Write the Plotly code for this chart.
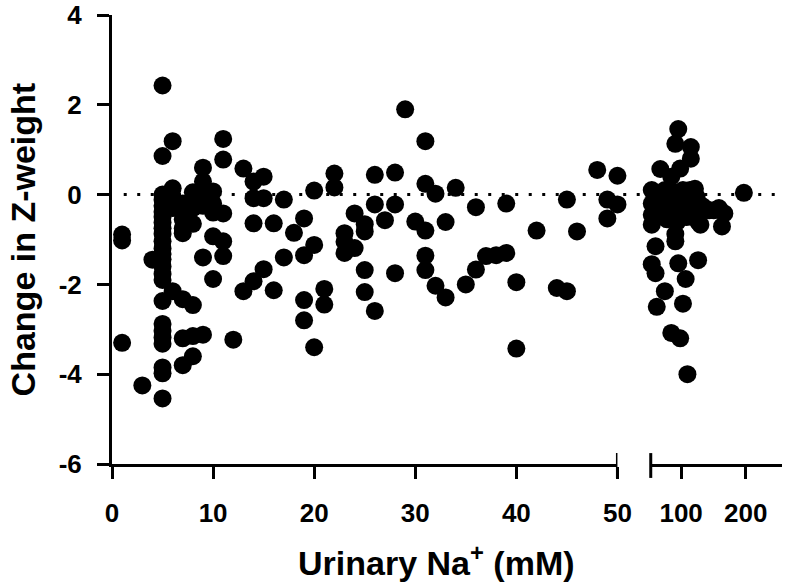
import plotly.graph_objects as go

# urinary Na (mM) below the axis break, and change in Z-weight
left_na = [1, 1, 1, 3, 4,
           5, 5, 5, 5, 5, 5, 5, 5, 5, 5, 5, 5, 5, 5, 5, 5, 5, 5, 5, 5, 5, 5, 5, 5, 5,
           6, 6, 6, 6, 6,
           7, 7, 7, 7, 7, 7, 7,
           8, 8, 8, 8, 8, 8, 8,
           9, 9, 9, 9, 9, 9,
           10, 10, 10, 10, 10,
           11, 11, 11, 11, 11,
           12, 13, 13,
           14, 14, 14, 14,
           15, 15, 15,
           16, 16, 17, 17, 18,
           19, 19, 19, 19,
           20, 20, 20, 21, 21, 22, 22,
           23, 23, 23, 24, 24,
           25, 25, 25, 25, 26, 26, 26, 27,
           28, 28, 28, 29, 30,
           31, 31, 31, 31, 31, 32, 32, 33, 33, 34, 35, 36, 36, 37, 38, 39, 39,
           40, 40, 42, 44, 45, 45, 46, 48, 49, 49, 50, 50]
left_dz = [-0.89, -1.02, -3.3, -4.25, -1.45,
           2.43, 0.86, 0.0, -0.12, -0.25, -0.38, -0.5, -0.62, -0.75, -0.88, -1.04, -1.2, -1.32,
           -1.44, -1.6, -1.77, -1.9, -2.37, -2.88, -3.03, -3.18, -3.32, -3.85, -3.98, -4.54,
           1.19, 0.14, -0.05, -0.3, -2.15,
           -0.2, -0.55, -0.75, -0.86, -2.33, -3.2, -3.8,
           0.05, -0.1, -0.3, -0.65, -2.46, -3.15, -3.6,
           0.6, 0.29, 0.0, -0.25, -1.4, -3.12,
           0.07, -0.2, -0.4, -0.93, -1.88,
           1.24, 0.78, -0.42, -1.04, -1.37,
           -3.23, 0.58, -2.15,
           0.29, -0.08, -0.64, -1.93,
           0.4, -0.08, -1.66,
           -0.64, -2.13, -0.11, -1.4, -0.85,
           -0.53, -1.35, -2.35, -2.8,
           0.09, -1.12, -3.4, -2.1, -2.45, 0.47, 0.16,
           -0.86, -1.05, -1.3, -0.42, -1.19,
           -0.66, -0.82, -1.68, -2.17, 0.44, -0.22, -2.59, -0.57,
           0.49, -0.22, -1.75, 1.9, -0.6,
           1.19, 0.24, -0.8, -1.36, -1.68, 0.02, -2.03, -0.61, -2.29, 0.15, -2.0, -0.28, -1.67,
           -1.37, -1.35, -0.2, -1.3,
           -1.95, -3.43, -0.8, -2.08, -0.11, -2.15, -0.82, 0.55, -0.11, -0.53, 0.42, -0.22]

# urinary Na (mM) above the axis break
right_na = [97, 94, 111, 111, 80, 99, 90,
            73, 73, 73, 73, 76, 80, 84, 86, 88, 90, 92, 94, 96, 98, 100, 102, 104, 106,
            110, 112, 115, 116, 118, 120, 123, 125, 129, 135, 142, 150, 155, 159,
            94, 76, 94, 73, 76, 97, 120, 105, 84, 77, 102, 90, 99, 107, 196]
right_dz = [1.46, 1.13, 1.06, 0.8, 0.57, 0.58, 0.4,
            0.1, -0.2, -0.45, -0.67, -0.05, -0.3, 0.1, -0.55, -0.15, -0.4, 0.05, -0.2, -0.6,
            0.0, -0.3, 0.1, -0.15, -0.5,
            0.1, -0.2, -0.35, 0.13, -0.05, -0.6, -0.67, -0.25, -0.3, -0.35, -0.35, -0.3, -0.71, -0.42,
            -0.88, -1.15, -1.04, -1.55, -1.75, -1.53, -1.46, -1.88, -2.15, -2.5, -2.43, -3.08,
            -3.2, -4.0, 0.04]

y_ticks = [-6, -4, -2, 0, 2, 4]
y_tick_labels = ['-6', '-4', '-2', '0', '2', '4']
x1_ticks = [0, 10, 20, 30, 40, 50]
x2_ticks = [100, 200]

font_family = 'Arial, Liberation Sans, sans-serif'
tick_font = dict(family=font_family, size=26, color='black', weight='bold')
title_font = dict(family=font_family, size=34, color='black', weight='bold')
marker_style = dict(size=18, color='black')

fig = go.Figure()
fig.add_trace(go.Scatter(x=left_na, y=left_dz, mode='markers', marker=marker_style,
                         xaxis='x', yaxis='y', cliponaxis=False, showlegend=False))
fig.add_trace(go.Scatter(x=right_na, y=right_dz, mode='markers', marker=marker_style,
                         xaxis='x2', yaxis='y', cliponaxis=False, showlegend=False))

axis_common = dict(
    showline=True,
    linecolor='black',
    linewidth=3,
    ticks='outside',
    ticklen=12,
    tickwidth=3,
    tickcolor='black',
    tickfont=tick_font,
    ticklabeloverflow='allow',
    showgrid=False,
    zeroline=False,
)

fig.update_layout(
    width=796,
    height=588,
    plot_bgcolor='white',
    paper_bgcolor='white',
    margin=dict(l=112, r=0, t=12, b=124),
    xaxis=dict(axis_common, domain=[0, 0.7544], range=[0, 50], tickvals=x1_ticks,
               ticklabelstandoff=12, anchor='y'),
    xaxis2=dict(axis_common, domain=[0.8041, 1], type='log', range=[1.8586, 2.4699],
                tickvals=x2_ticks, ticktext=[str(v) for v in x2_ticks],
                ticklabelstandoff=12, anchor='y'),
    yaxis=dict(axis_common, range=[-6, 4], tickvals=y_ticks, ticktext=y_tick_labels,
               ticklabelstandoff=10, anchor='x'),
)

# dotted reference line at zero change
fig.add_shape(type='line', xref='paper', yref='y', x0=0.0175, x1=1, y0=0, y1=0,
              line=dict(color='black', width=3, dash='3px,10.5px'), layer='below')

# axis break marks
fig.add_shape(type='line', xref='x', yref='paper', x0=50, x1=50, y0=-0.031, y1=0.0243,
              line=dict(color='black', width=3))
fig.add_shape(type='line', xref='x2 domain', yref='paper', x0=0, x1=0, y0=-0.031, y1=0.0243,
              line=dict(color='black', width=3))

fig.add_annotation(text='Urinary Na<sup>+</sup> (mM)', xref='paper', yref='paper',
                   x=0.485, y=-0.215, xanchor='center', yanchor='middle',
                   showarrow=False, font=title_font)
fig.add_annotation(text='Change in Z-weight', xref='paper', yref='paper',
                   x=-0.133, y=0.5, xanchor='center', yanchor='middle', textangle=-90,
                   showarrow=False, font=title_font)

fig.write_html("out.html", config={'displayModeBar': False},
               post_script="document.body.style.margin='0';")
